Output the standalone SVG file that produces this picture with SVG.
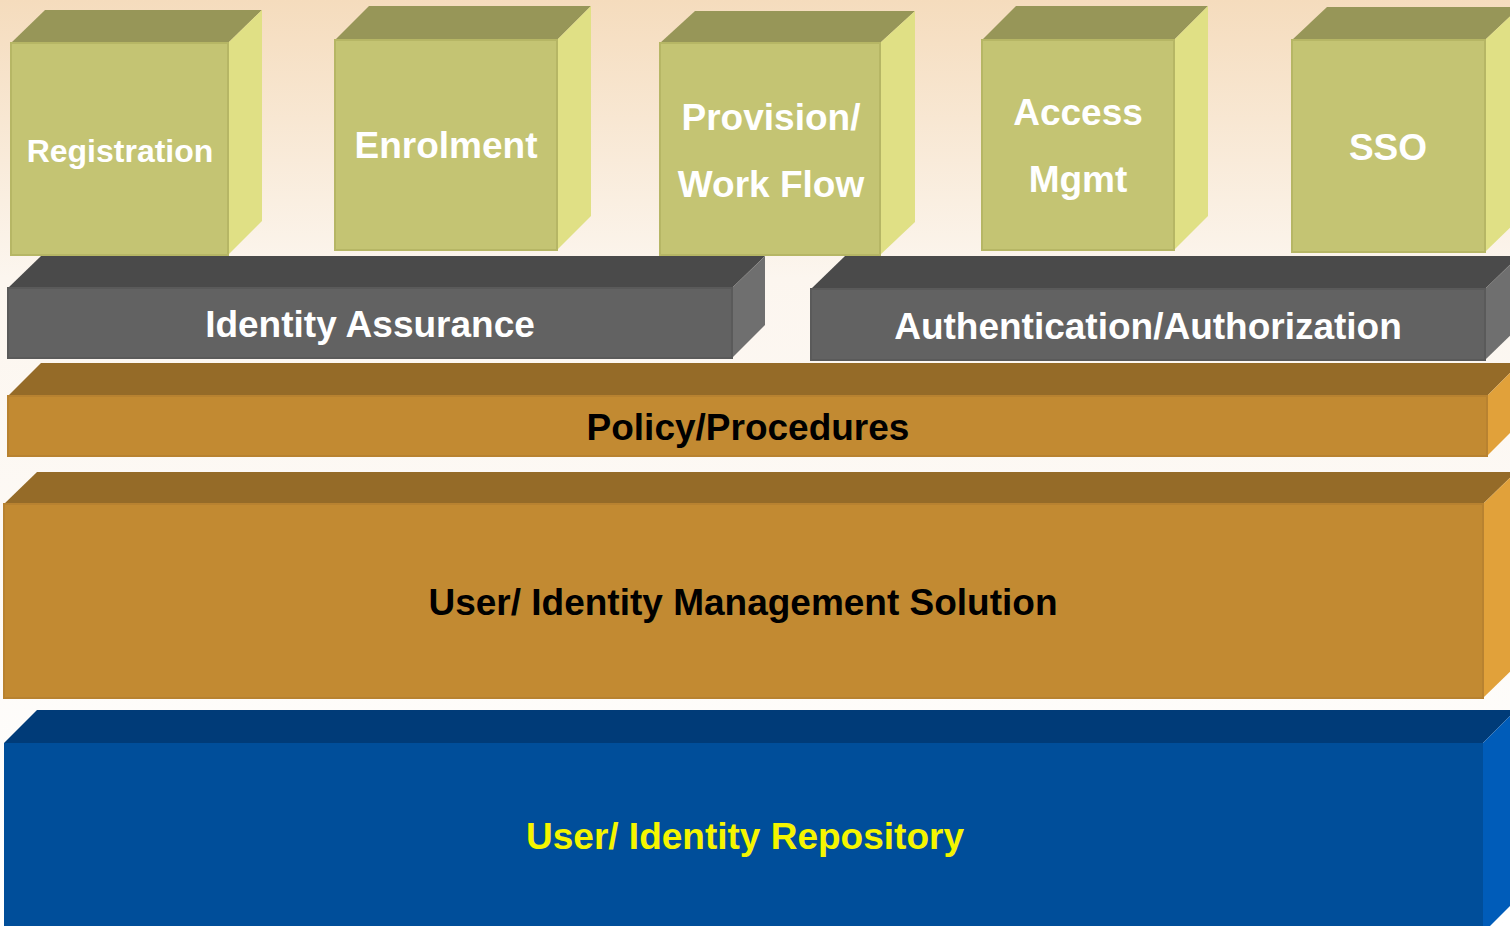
<svg xmlns="http://www.w3.org/2000/svg" width="1510" height="926" viewBox="0 0 1510 926">
<defs>
<linearGradient id="bg" x1="0" y1="0" x2="0" y2="1">
<stop offset="0" stop-color="#f5dcbd"/>
<stop offset="0.3" stop-color="#fcf6ef"/>
<stop offset="1" stop-color="#ffffff"/>
</linearGradient>
<style>
.gF{fill:#c4c473;stroke:#b6b665;stroke-width:2}
.gT{fill:#979658}
.gR{fill:#e0e085}
.kF{fill:#626262;stroke:#5a5a5a;stroke-width:2}
.kT{fill:#4a4a4a}
.kR{fill:#6f6f6f}
.oF{fill:#c28a32;stroke:#b88230;stroke-width:2}
.oT{fill:#956b28}
.oR{fill:#e1a13a}
.bF{fill:#004e9a}
.bT{fill:#003b78}
.bR{fill:#005cb9}
text{font-family:"Liberation Sans",Arial,sans-serif;font-weight:bold;text-anchor:middle}
.w{fill:#ffffff;font-size:37px}
.d{fill:#000000;font-size:37px}
.y{fill:#f5f500;font-size:37px}
</style>
</defs>
<rect x="0" y="0" width="1510" height="926" fill="url(#bg)"/>

<g id="registration">
<polygon class="gT" points="11,43 45,10 262,10 228,43"/>
<polygon class="gR" points="228,43 262,10 262,221 228,255"/>
<rect class="gF" x="11" y="43" width="217" height="212"/>
<text class="w" x="120" y="162" style="font-size:32px">Registration</text>
</g>

<g id="enrolment">
<polygon class="gT" points="335,40 369,6 591,6 557,40"/>
<polygon class="gR" points="557,40 591,6 591,216 557,250"/>
<rect class="gF" x="335" y="40" width="222" height="210"/>
<text class="w" x="446" y="158">Enrolment</text>
</g>

<g id="provision">
<polygon class="gT" points="660,43 695,11 915,11 880,43"/>
<polygon class="gR" points="880,43 915,11 915,222 880,255"/>
<rect class="gF" x="660" y="43" width="220" height="212"/>
<text class="w" x="771" y="130">Provision/</text>
<text class="w" x="771" y="197">Work Flow</text>
</g>

<g id="access">
<polygon class="gT" points="982,40 1016,6 1208,6 1174,40"/>
<polygon class="gR" points="1174,40 1208,6 1208,216 1174,250"/>
<rect class="gF" x="982" y="40" width="192" height="210"/>
<text class="w" x="1078" y="125">Access</text>
<text class="w" x="1078" y="192">Mgmt</text>
</g>

<g id="sso">
<polygon class="gT" points="1292,40 1327,7 1520,7 1485,40"/>
<polygon class="gR" points="1485,40 1520,7 1520,218 1485,252"/>
<rect class="gF" x="1292" y="40" width="193" height="212"/>
<text class="w" x="1388" y="160">SSO</text>
</g>

<g id="identity-assurance">
<polygon class="kT" points="8,288 41,256 765,256 732,288"/>
<polygon class="kR" points="732,288 765,256 765,325 732,358"/>
<rect class="kF" x="8" y="288" width="724" height="70"/>
<text class="w" x="370" y="337">Identity Assurance</text>
</g>

<g id="authentication">
<polygon class="kT" points="811,289 845,256 1519,256 1485,289"/>
<polygon class="kR" points="1485,289 1519,256 1519,327 1485,360"/>
<rect class="kF" x="811" y="289" width="674" height="71"/>
<text class="w" x="1148" y="339">Authentication/Authorization</text>
</g>

<g id="policy">
<polygon class="oT" points="8,396 41,363 1520,363 1487,396"/>
<polygon class="oR" points="1487,396 1520,363 1520,423 1487,456"/>
<rect class="oF" x="8" y="396" width="1479" height="60"/>
<text class="d" x="748" y="440">Policy/Procedures</text>
</g>

<g id="management">
<polygon class="oT" points="4,504 37,472 1516,472 1483,504"/>
<polygon class="oR" points="1483,504 1516,472 1516,666 1483,698"/>
<rect class="oF" x="4" y="504" width="1479" height="194"/>
<text class="d" x="743" y="615">User/ Identity Management Solution</text>
</g>

<g id="repository">
<polygon class="bT" points="4,743 37,710 1516,710 1483,743"/>
<polygon class="bR" points="1483,743 1516,710 1516,900 1483,933"/>
<rect class="bF" x="4" y="743" width="1479" height="190"/>
<text class="y" x="745" y="849">User/ Identity Repository</text>
</g>

<g id="connectors"></g>
</svg>
